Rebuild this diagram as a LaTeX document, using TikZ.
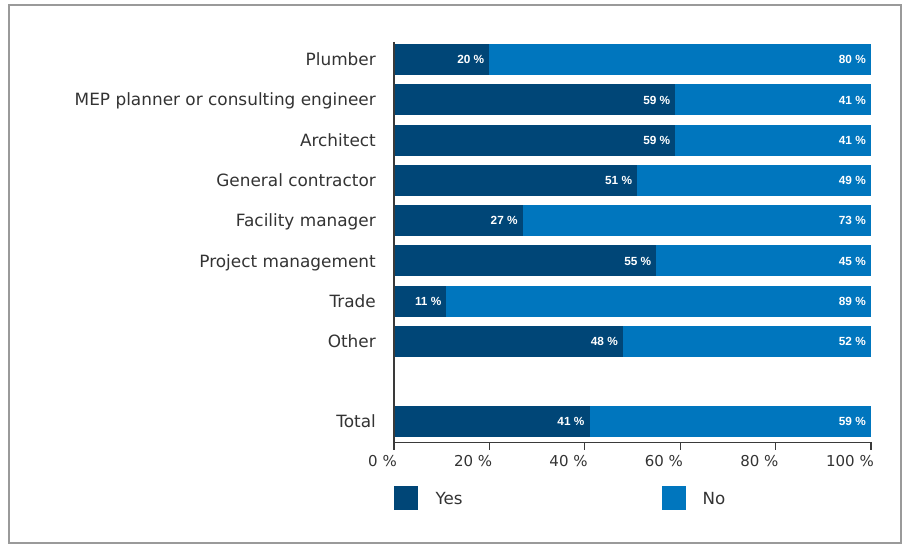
\documentclass[tikz,border=0pt]{standalone}
\usepackage{fontspec}
\setmainfont{Liberation Sans}
\newfontfamily\dvfont{DejaVu Sans}
\definecolor{yescol}{HTML}{004677}
\definecolor{nocol}{HTML}{0076BE}
\definecolor{txtcol}{HTML}{333333}
\definecolor{framecol}{HTML}{9A9A9A}
\definecolor{axiscol}{HTML}{3A3A3A}
\tikzset{
  catlab/.style={anchor=east, font=\dvfont\fontsize{16.9}{20}\selectfont, text=txtcol, inner sep=0pt, text height=12.3pt, text depth=0pt},
  vallab/.style={anchor=east, font=\bfseries\fontsize{11.8}{14}\selectfont, text=white, inner sep=0pt, text height=8.5pt, text depth=0pt},
  ticklab/.style={anchor=east, font=\dvfont\fontsize{15}{18}\selectfont, text=txtcol, inner sep=0pt, text height=10.9pt, text depth=0pt},
  leglab/.style={anchor=west, font=\dvfont\fontsize{16.7}{20}\selectfont, text=txtcol, inner sep=0pt, text height=12.2pt, text depth=0pt},
  barbox/.style={inner sep=0pt, outer sep=0pt, minimum height=31pt, draw=none},
  yesbar/.style={barbox, fill=yescol, anchor=north west},
  nobar/.style={barbox, fill=nocol, anchor=north west},
  legbox/.style={inner sep=0pt, outer sep=0pt, minimum size=24pt, anchor=north west, draw=none},
  axisline/.style={draw=axiscol, line width=1.2pt}
}
\begin{document}
\begin{tikzpicture}[x=1pt,y=-1pt]
\useasboundingbox (0,0) rectangle (906,545);
\draw[framecol, line width=1.4pt] (9,5) rectangle (901,543);
% bars
\foreach \lab/\yv [count=\i from 0] in {Plumber/20, MEP planner or consulting engineer/59, Architect/59, General contractor/51, Facility manager/27, Project management/55, Trade/11, Other/48, Total/41} {
  \pgfmathsetmacro\topy{ifthenelse(\i==8, 406.2, 44+40.3*\i)}
  \pgfmathtruncatemacro\nv{100-\yv}
  \node[yesbar, minimum width={\yv*4.77pt}] (yes\i) at (394,\topy) {};
  \node[nobar, minimum width={\nv*4.77pt}] (no\i) at (yes\i.north east) {};
  \node[catlab] (cat\i) at ([xshift=-18pt]yes\i.west) {\lab};
  \node[vallab] (yv\i) at ([xshift=-5pt]yes\i.east) {\yv~\%};
  \node[vallab] (nv\i) at ([xshift=-5pt]no\i.east) {\nv~\%};
}
% axes
\draw[axisline] (394,42) -- (394,450);
\draw[axisline] (394,442.5) -- (871,442.5);
\foreach \p [count=\j from 0] in {0,20,40,60,80,100} {
  \coordinate (tick\j) at ({394+\p*4.77},442.5);
  \draw[axisline] (tick\j) -- ++(0,7.5);
  \node[ticklab] (tl\j) at ([xshift=3pt,yshift=-18.7pt]tick\j) {\p~\%};
}
% legend
\node[legbox, fill=yescol] (legyes) at (394,486) {};
\node[leglab] (legyeslab) at ([xshift=17.5pt]legyes.east) {Yes};
\node[legbox, fill=nocol] (legno) at (662,486) {};
\node[leglab] (legnolab) at ([xshift=16.5pt]legno.east) {No};
\end{tikzpicture}
\end{document}
